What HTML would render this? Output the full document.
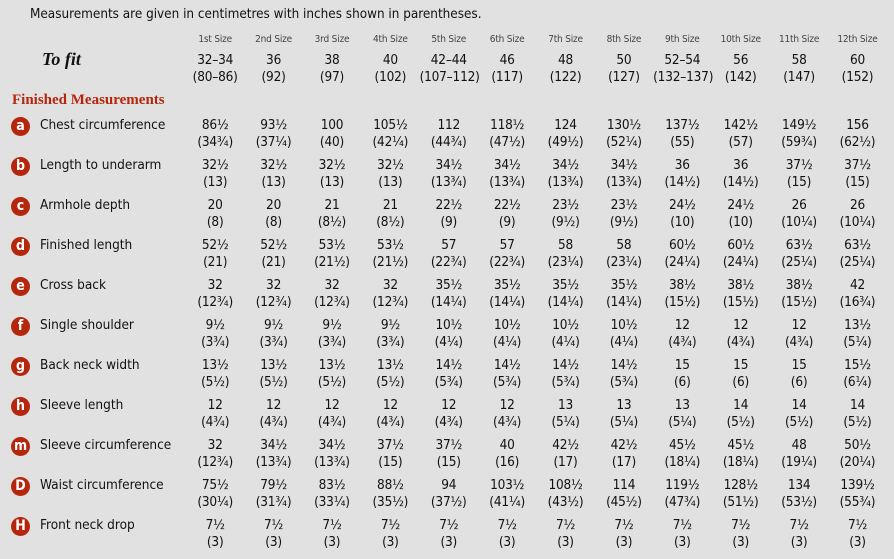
<!DOCTYPE html>
<html><head><meta charset="utf-8"><style>
body{margin:0;background:#e1e1e1;width:894px;height:559px;overflow:hidden;font-family:"DejaVu Sans Condensed","Liberation Sans",sans-serif;color:#111}
.r{position:absolute;left:0;width:894px;display:flex;font-size:13.5px;line-height:17px}
.l{width:186px;flex:none;position:relative}
.v{width:58.4px;flex:none;text-align:center;white-space:nowrap;letter-spacing:-0.2px}
.c{position:absolute;left:11px;top:-8px;width:19px;height:19px;border-radius:50%;background:#b5260c;color:#fff;font-weight:bold;font-size:14px;line-height:19px;text-align:center}
.t{position:absolute;left:40px;top:-9px}
.h{font-size:10px;color:#444}
</style></head><body>
<div style="position:absolute;left:30px;top:7px;font-size:13.4px">Measurements are given in centimetres with inches shown in parentheses.</div>
<div class="r h" style="top:31px"><div class="l"></div><div class="v">1st Size</div><div class="v">2nd Size</div><div class="v">3rd Size</div><div class="v">4th Size</div><div class="v">5th Size</div><div class="v">6th Size</div><div class="v">7th Size</div><div class="v">8th Size</div><div class="v">9th Size</div><div class="v">10th Size</div><div class="v">11th Size</div><div class="v">12th Size</div></div>
<div style="position:absolute;left:42px;top:49px;font-family:'Liberation Serif',serif;font-style:italic;font-weight:bold;font-size:18px">To fit</div>
<div class="r" style="top:52px"><div class="l"></div><div class="v">32–34<br>(80–86)</div><div class="v">36<br>(92)</div><div class="v">38<br>(97)</div><div class="v">40<br>(102)</div><div class="v">42–44<br>(107–112)</div><div class="v">46<br>(117)</div><div class="v">48<br>(122)</div><div class="v">50<br>(127)</div><div class="v">52–54<br>(132–137)</div><div class="v">56<br>(142)</div><div class="v">58<br>(147)</div><div class="v">60<br>(152)</div></div>
<div style="position:absolute;left:12px;top:92px;font-family:'Liberation Serif',serif;font-weight:bold;font-size:15px;color:#b5260c">Finished Measurements</div>

<div class="r" style="top:117px"><div class="l"><span class="c" style="top:0">a</span><span class="t" style="top:0">Chest circumference</span></div><div class="v">86½<br>(34¾)</div><div class="v">93½<br>(37¼)</div><div class="v">100<br>(40)</div><div class="v">105½<br>(42¼)</div><div class="v">112<br>(44¾)</div><div class="v">118½<br>(47½)</div><div class="v">124<br>(49½)</div><div class="v">130½<br>(52¼)</div><div class="v">137½<br>(55)</div><div class="v">142½<br>(57)</div><div class="v">149½<br>(59¾)</div><div class="v">156<br>(62½)</div></div>

<div class="r" style="top:157px"><div class="l"><span class="c" style="top:0">b</span><span class="t" style="top:0">Length to underarm</span></div><div class="v">32½<br>(13)</div><div class="v">32½<br>(13)</div><div class="v">32½<br>(13)</div><div class="v">32½<br>(13)</div><div class="v">34½<br>(13¾)</div><div class="v">34½<br>(13¾)</div><div class="v">34½<br>(13¾)</div><div class="v">34½<br>(13¾)</div><div class="v">36<br>(14½)</div><div class="v">36<br>(14½)</div><div class="v">37½<br>(15)</div><div class="v">37½<br>(15)</div></div>

<div class="r" style="top:197px"><div class="l"><span class="c" style="top:0">c</span><span class="t" style="top:0">Armhole depth</span></div><div class="v">20<br>(8)</div><div class="v">20<br>(8)</div><div class="v">21<br>(8½)</div><div class="v">21<br>(8½)</div><div class="v">22½<br>(9)</div><div class="v">22½<br>(9)</div><div class="v">23½<br>(9½)</div><div class="v">23½<br>(9½)</div><div class="v">24½<br>(10)</div><div class="v">24½<br>(10)</div><div class="v">26<br>(10¼)</div><div class="v">26<br>(10¼)</div></div>

<div class="r" style="top:237px"><div class="l"><span class="c" style="top:0">d</span><span class="t" style="top:0">Finished length</span></div><div class="v">52½<br>(21)</div><div class="v">52½<br>(21)</div><div class="v">53½<br>(21½)</div><div class="v">53½<br>(21½)</div><div class="v">57<br>(22¾)</div><div class="v">57<br>(22¾)</div><div class="v">58<br>(23¼)</div><div class="v">58<br>(23¼)</div><div class="v">60½<br>(24¼)</div><div class="v">60½<br>(24¼)</div><div class="v">63½<br>(25¼)</div><div class="v">63½<br>(25¼)</div></div>

<div class="r" style="top:277px"><div class="l"><span class="c" style="top:0">e</span><span class="t" style="top:0">Cross back</span></div><div class="v">32<br>(12¾)</div><div class="v">32<br>(12¾)</div><div class="v">32<br>(12¾)</div><div class="v">32<br>(12¾)</div><div class="v">35½<br>(14¼)</div><div class="v">35½<br>(14¼)</div><div class="v">35½<br>(14¼)</div><div class="v">35½<br>(14¼)</div><div class="v">38½<br>(15½)</div><div class="v">38½<br>(15½)</div><div class="v">38½<br>(15½)</div><div class="v">42<br>(16¾)</div></div>

<div class="r" style="top:317px"><div class="l"><span class="c" style="top:0">f</span><span class="t" style="top:0">Single shoulder</span></div><div class="v">9½<br>(3¾)</div><div class="v">9½<br>(3¾)</div><div class="v">9½<br>(3¾)</div><div class="v">9½<br>(3¾)</div><div class="v">10½<br>(4¼)</div><div class="v">10½<br>(4¼)</div><div class="v">10½<br>(4¼)</div><div class="v">10½<br>(4¼)</div><div class="v">12<br>(4¾)</div><div class="v">12<br>(4¾)</div><div class="v">12<br>(4¾)</div><div class="v">13½<br>(5¼)</div></div>

<div class="r" style="top:357px"><div class="l"><span class="c" style="top:0">g</span><span class="t" style="top:0">Back neck width</span></div><div class="v">13½<br>(5½)</div><div class="v">13½<br>(5½)</div><div class="v">13½<br>(5½)</div><div class="v">13½<br>(5½)</div><div class="v">14½<br>(5¾)</div><div class="v">14½<br>(5¾)</div><div class="v">14½<br>(5¾)</div><div class="v">14½<br>(5¾)</div><div class="v">15<br>(6)</div><div class="v">15<br>(6)</div><div class="v">15<br>(6)</div><div class="v">15½<br>(6¼)</div></div>

<div class="r" style="top:397px"><div class="l"><span class="c" style="top:0">h</span><span class="t" style="top:0">Sleeve length</span></div><div class="v">12<br>(4¾)</div><div class="v">12<br>(4¾)</div><div class="v">12<br>(4¾)</div><div class="v">12<br>(4¾)</div><div class="v">12<br>(4¾)</div><div class="v">12<br>(4¾)</div><div class="v">13<br>(5¼)</div><div class="v">13<br>(5¼)</div><div class="v">13<br>(5¼)</div><div class="v">14<br>(5½)</div><div class="v">14<br>(5½)</div><div class="v">14<br>(5½)</div></div>

<div class="r" style="top:437px"><div class="l"><span class="c" style="top:0">m</span><span class="t" style="top:0">Sleeve circumference</span></div><div class="v">32<br>(12¾)</div><div class="v">34½<br>(13¾)</div><div class="v">34½<br>(13¾)</div><div class="v">37½<br>(15)</div><div class="v">37½<br>(15)</div><div class="v">40<br>(16)</div><div class="v">42½<br>(17)</div><div class="v">42½<br>(17)</div><div class="v">45½<br>(18¼)</div><div class="v">45½<br>(18¼)</div><div class="v">48<br>(19¼)</div><div class="v">50½<br>(20¼)</div></div>

<div class="r" style="top:477px"><div class="l"><span class="c" style="top:0">D</span><span class="t" style="top:0">Waist circumference</span></div><div class="v">75½<br>(30¼)</div><div class="v">79½<br>(31¾)</div><div class="v">83½<br>(33¼)</div><div class="v">88½<br>(35½)</div><div class="v">94<br>(37½)</div><div class="v">103½<br>(41¼)</div><div class="v">108½<br>(43½)</div><div class="v">114<br>(45½)</div><div class="v">119½<br>(47¾)</div><div class="v">128½<br>(51½)</div><div class="v">134<br>(53½)</div><div class="v">139½<br>(55¾)</div></div>

<div class="r" style="top:517px"><div class="l"><span class="c" style="top:0">H</span><span class="t" style="top:0">Front neck drop</span></div><div class="v">7½<br>(3)</div><div class="v">7½<br>(3)</div><div class="v">7½<br>(3)</div><div class="v">7½<br>(3)</div><div class="v">7½<br>(3)</div><div class="v">7½<br>(3)</div><div class="v">7½<br>(3)</div><div class="v">7½<br>(3)</div><div class="v">7½<br>(3)</div><div class="v">7½<br>(3)</div><div class="v">7½<br>(3)</div><div class="v">7½<br>(3)</div></div>
</body></html>
